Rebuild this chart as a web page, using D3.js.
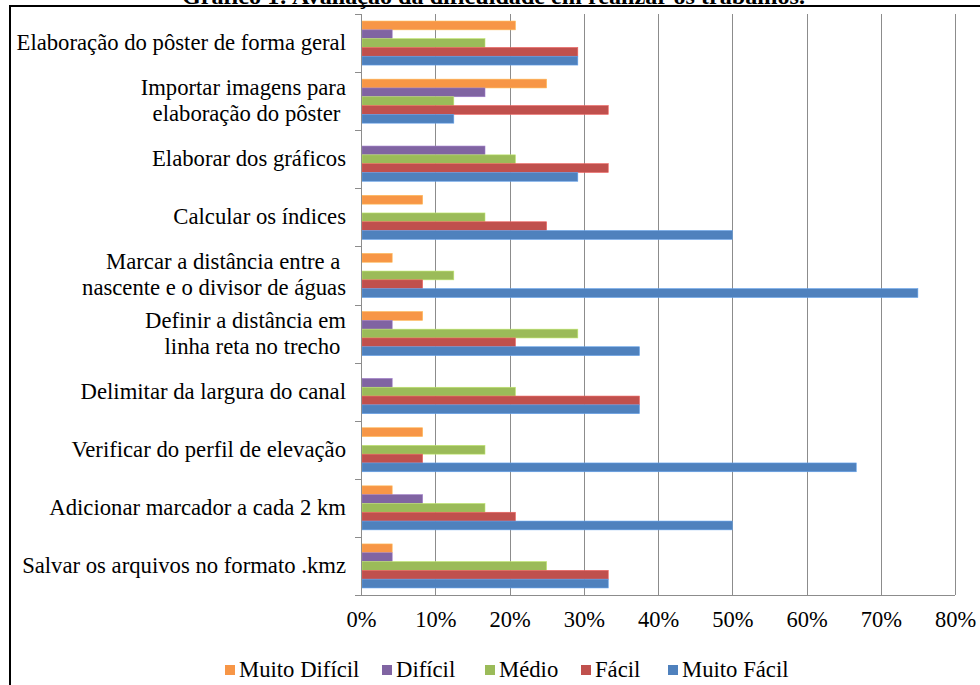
<!DOCTYPE html>
<html>
<head>
<meta charset="utf-8">
<script src="https://cdn.jsdelivr.net/npm/d3@7"></script>
<style>
  html, body { margin: 0; padding: 0; background: #fff; }
  svg { display: block; font-family: "Liberation Serif", "Times New Roman", serif; }
</style>
</head>
<body>
<svg width="980" height="685"></svg>
<script>
// categorias (de cima para baixo)
var categories = [
  ["Elaboração do pôster de forma geral"],
  ["Importar imagens para", "elaboração do pôster "],
  ["Elaborar dos gráficos"],
  ["Calcular os índices"],
  ["Marcar a distância entre a ", "nascente e o divisor de águas"],
  ["Definir a distância em", "linha reta no trecho "],
  ["Delimitar da largura do canal"],
  ["Verificar do perfil de elevação"],
  ["Adicionar marcador a cada 2 km"],
  ["Salvar os arquivos no formato .kmz"]
];
var seriesNames = ["Muito Difícil", "Difícil", "Médio", "Fácil", "Muito Fácil"];
var seriesColors = ["#F79646", "#8064A2", "#9BBB59", "#C0504D", "#4F81BD"];

// valores em %
var muitoDificil = [20.8, 25.0, 0, 8.3, 4.2, 8.3, 0, 8.3, 4.2, 4.2];
var dificil      = [4.2, 16.7, 16.7, 0, 0, 4.2, 4.2, 0, 8.3, 4.2];
var medio        = [16.7, 12.5, 20.8, 16.7, 12.5, 29.2, 20.8, 16.7, 16.7, 25.0];
var facil        = [29.2, 33.3, 33.3, 25.0, 8.3, 20.8, 37.5, 8.3, 20.8, 33.3];
var muitoFacil   = [29.2, 12.5, 29.2, 50.0, 75.0, 37.5, 37.5, 66.7, 50.0, 33.3];
var xTicks = [0, 10, 20, 30, 40, 50, 60, 70, 80];

var seriesValues = [muitoDificil, dificil, medio, facil, muitoFacil];

var svg = d3.select("svg");

// moldura
svg.append("rect")
  .attr("x", 10).attr("y", 6)
  .attr("width", 1000).attr("height", 700)
  .attr("fill", "none")
  .attr("stroke", "#000")
  .attr("stroke-width", 2);

// titulo (cortado no topo)
svg.append("text")
  .attr("x", 182).attr("y", 4)
  .attr("textLength", 623)
  .attr("lengthAdjust", "spacingAndGlyphs")
  .style("font-size", "23px")
  .style("font-weight", "bold")
  .text("Gráfico 1: Avaliação da dificuldade em realizar os trabalhos.");

var plotLeft = 361, plotRight = 955, plotTop = 14, plotBottom = 595;

var x = d3.scaleLinear().domain([0, 80]).range([plotLeft, plotRight]);
var y0 = d3.scaleBand().domain(d3.range(categories.length)).range([plotTop, plotBottom]);
var y1 = d3.scaleBand().domain(d3.range(seriesNames.length))
  .range([0, y0.bandwidth()]).paddingOuter(0.8);

// grade
svg.append("g").selectAll("line")
  .data(xTicks.slice(1))
  .enter().append("line")
  .attr("x1", function(d) { return Math.round(x(d)) + 0.5; })
  .attr("x2", function(d) { return Math.round(x(d)) + 0.5; })
  .attr("y1", plotTop).attr("y2", plotBottom)
  .attr("stroke", "#8c8c8c")
  .attr("stroke-width", 1);

// barras
var groups = svg.append("g").selectAll("g")
  .data(categories)
  .enter().append("g")
  .attr("transform", function(d, i) { return "translate(0," + y0(i) + ")"; });

groups.selectAll("rect")
  .data(function(d, i) {
    return seriesValues.map(function(s, k) { return {k: k, v: s[i]}; })
      .filter(function(e) { return e.v > 0; });
  })
  .enter().append("rect")
  .attr("x", x(0) + 1)
  .attr("y", function(d) { return y1(d.k); })
  .attr("width", function(d) { return x(d.v) - x(0) - 1; })
  .attr("height", y1.bandwidth())
  .attr("fill", function(d) { return seriesColors[d.k]; })
  .attr("stroke", function(d) { return d3.color(seriesColors[d.k]).brighter(0.6); })
  .attr("stroke-width", 0.6);

// eixo x
var xAxis = svg.append("g")
  .attr("transform", "translate(0," + plotBottom + ")")
  .call(d3.axisBottom(x).tickValues(xTicks).tickSize(0).tickPadding(16)
    .tickFormat(function(d) { return d + "%"; }));
xAxis.select(".domain").attr("stroke", "#8c8c8c").attr("d", "M" + (plotLeft - 6) + ",0.5H" + plotRight);
xAxis.selectAll("text")
  .style("font-family", "Liberation Serif, serif")
  .style("font-size", "22.5px")
  .attr("fill", "#000");

// eixo y (categorias)
var yAxisG = svg.append("g");
yAxisG.append("line")
  .attr("x1", plotLeft + 0.5).attr("x2", plotLeft + 0.5)
  .attr("y1", plotTop).attr("y2", plotBottom)
  .attr("stroke", "#8c8c8c");
yAxisG.selectAll("line.tick")
  .data(d3.range(categories.length + 1))
  .enter().append("line")
  .attr("class", "tick")
  .attr("x1", plotLeft - 6).attr("x2", plotLeft)
  .attr("y1", function(i) { return Math.round(plotTop + i * y0.step()) + 0.5; })
  .attr("y2", function(i) { return Math.round(plotTop + i * y0.step()) + 0.5; })
  .attr("stroke", "#8c8c8c");

var labels = yAxisG.selectAll("text")
  .data(categories)
  .enter().append("text")
  .attr("x", 346)
  .attr("y", function(d, i) { return y0(i) + y0.bandwidth() / 2; })
  .attr("text-anchor", "end")
  .style("font-size", "22.7px")
  .style("white-space", "pre");

labels.each(function(d) {
  var t = d3.select(this);
  var n = d.length;
  d.forEach(function(line, j) {
    t.append("tspan")
      .attr("x", 346)
      .attr("dy", j === 0 ? ((-(n - 1) / 2) * 26 + 7) : 26)
      .text(line);
  });
});

// legenda
var legendX = [225, 382, 485, 581, 668];
var legend = svg.append("g").selectAll("g")
  .data(seriesNames)
  .enter().append("g")
  .attr("transform", function(d, i) { return "translate(" + legendX[i] + ",670)"; });
legend.append("rect")
  .attr("x", 0).attr("y", -5)
  .attr("width", 10).attr("height", 10)
  .attr("fill", function(d, i) { return seriesColors[i]; });
legend.append("text")
  .attr("x", 14).attr("y", 7)
  .style("font-size", "22.7px")
  .text(function(d) { return d; });
</script>
</body>
</html>
